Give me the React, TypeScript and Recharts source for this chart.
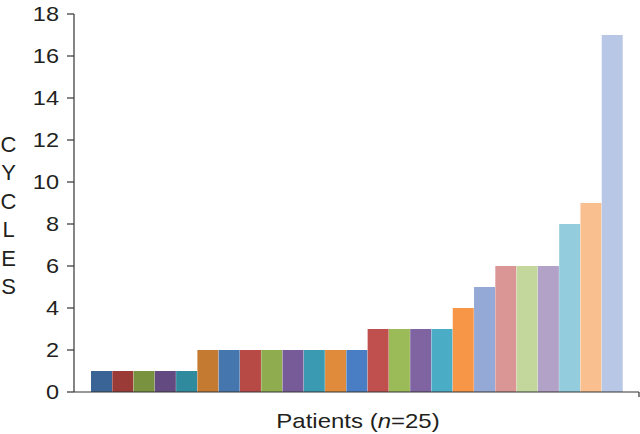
import { BarChart, Bar, Cell, XAxis, YAxis, Label } from 'recharts'

const patients = Array.from({ length: 25 }, (_, i) => `P${i + 1}`)
const cycles = [1, 1, 1, 1, 1, 2, 2, 2, 2, 2, 2, 2, 2, 3, 3, 3, 3, 4, 5, 6, 6, 6, 8, 9, 17]
const yTicks = [0, 2, 4, 6, 8, 10, 12, 14, 16, 18]
const COLORS = [
  '#3a6496', '#9a3b38', '#78923f', '#634a80', '#2f8a9e',
  '#c47a30', '#4676ae', '#b84a46', '#8fad4f', '#775a98',
  '#3a9ab2', '#e08a3c', '#4a7ec4', '#c0504d', '#9bbb59',
  '#8064a2', '#4bacc6', '#f79646', '#95a9d6', '#d99694',
  '#c3d69b', '#b2a2c7', '#93cddd', '#fabf8f', '#b9c7e6',
]
const yLabel = 'CYCLES'

const data = patients.map((p, i) => ({ name: p, value: cycles[i] }))

const FONT = 'Liberation Sans, Arial, Helvetica, sans-serif'
const INK = '#231f20'
const AXIS = '#333'

// the source figure's text is a bit wider than normal Arial
function YTick({ x, y, payload }: any) {
  return (
    <text transform={`translate(${x},${y}) scale(1.12,1)`} textAnchor="end" dy="0.35em"
      fontFamily={FONT} fontSize={21} fill={INK}>
      {payload.value}
    </text>
  )
}

function YTitle() {
  return (
    <text x={8.5} textAnchor="middle" fontFamily={FONT} fontSize={22} fill={INK}>
      {yLabel.split('').map((ch, i) => (
        <tspan key={i} x={8.5} y={152 + i * 28.4}>{ch}</tspan>
      ))}
    </text>
  )
}

function XTitle({ viewBox }: any) {
  const right = viewBox ? viewBox.x + viewBox.width : 639
  const top = viewBox ? viewBox.y : 392
  return (
    <g>
      <line x1={right} y1={top} x2={right} y2={top + 5} stroke={AXIS} strokeWidth={1.2} />
      <text transform="translate(358,428) scale(1.2,1)" textAnchor="middle"
        fontFamily={FONT} fontSize={20} fill={INK}>
        <tspan>Patients (</tspan>
        <tspan fontStyle="italic">n</tspan>
        <tspan>=25)</tspan>
      </text>
    </g>
  )
}

export default function App() {
  return (
    <div style={{ position: 'absolute', left: 0, top: 0, width: 640, height: 434, background: '#fff' }}>
      <BarChart width={640} height={434} data={data}
        margin={{ top: 14, right: 1, bottom: 0, left: 0 }}
        barCategoryGap={0}>
        <XAxis dataKey="name" tick={false} tickLine={false}
          axisLine={{ stroke: AXIS, strokeWidth: 1.2 }}
          padding={{ left: 17, right: 16 }} height={42}>
          <Label content={<XTitle />} />
        </XAxis>
        <YAxis domain={[0, 18]} ticks={yTicks} interval={0} width={74}
          tickSize={7} tickMargin={8}
          tick={<YTick />}
          axisLine={{ stroke: AXIS, strokeWidth: 1.2 }}
          tickLine={{ stroke: AXIS, strokeWidth: 1.2 }}>
          <Label content={<YTitle />} />
        </YAxis>
        <Bar dataKey="value" isAnimationActive={false}>
          {data.map((_, i) => (
            <Cell key={i} fill={COLORS[i % COLORS.length]} />
          ))}
        </Bar>
      </BarChart>
    </div>
  )
}
